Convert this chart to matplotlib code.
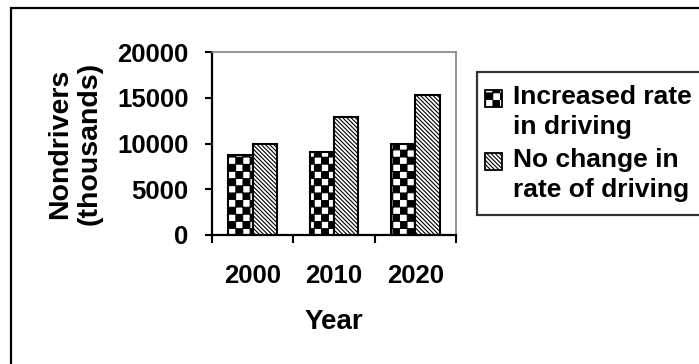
import warnings
import numpy as np
import matplotlib
matplotlib.use("Agg")
import matplotlib.pyplot as plt
from matplotlib import hatch as mhatch
from matplotlib.path import Path
from matplotlib.patches import Rectangle
from matplotlib.legend_handler import HandlerPatch

warnings.filterwarnings("ignore")

years = ["2000", "2010", "2020"]
increased = [8700, 9100, 10000]
no_change = [10000, 12900, 15300]
series_labels = ["Increased rate\nin driving", "No change in\nrate of driving"]
yticks = [0, 5000, 10000, 15000, 20000]


class Checker(mhatch.HatchPatternBase):
    filled = True

    def __init__(self, hatch, density):
        n = hatch.count('c') * 14
        self.n = n
        self.num_vertices = (n * n // 2) * 5 if n else 0

    def set_vertices_and_codes(self, vertices, codes):
        n = self.n
        s = 1.0 / n
        k = 0
        sq = np.array([[0, 0], [1, 0], [1, 1], [0, 1], [0, 0]], float)
        for i in range(n):
            for j in range(n):
                if (i + j) % 2 == 0:
                    vertices[k:k + 5] = (sq * 0.96 + 0.02 + [i, j]) * s
                    codes[k:k + 5] = [Path.MOVETO, Path.LINETO, Path.LINETO,
                                      Path.LINETO, Path.CLOSEPOLY]
                    k += 5


if Checker not in mhatch._hatch_types:
    mhatch._hatch_types.append(Checker)


class TopSquareHandler(HandlerPatch):
    def create_artists(self, legend, orig_handle, xdescent, ydescent,
                       width, height, fontsize, trans):
        size = 0.64 * fontsize
        y0 = 0.56 * fontsize
        p = Rectangle((-xdescent - 0.2 * fontsize, y0), size, size,
                      facecolor=orig_handle.get_facecolor(),
                      edgecolor='black', hatch=orig_handle.get_hatch(),
                      linewidth=1.3, transform=trans)
        return [p]


plt.rcParams['font.family'] = ['Liberation Sans', 'DejaVu Sans']
plt.rcParams['font.weight'] = 'bold'
plt.rcParams['hatch.linewidth'] = 0.8

fig = plt.figure(figsize=(6.99, 3.64), dpi=100)
ax = fig.add_axes([212 / 699, 1 - 235 / 364, 244 / 699, 183 / 364])

x = np.arange(len(years))
w = 0.3
b1 = ax.bar(x - w / 2, increased, w, color='white', edgecolor='black',
            linewidth=1.5, hatch='c', label=series_labels[0])
b2 = ax.bar(x + w / 2, no_change, w, color='white', edgecolor='black',
            linewidth=1.5, hatch='\\' * 8, label=series_labels[1])

ax.set_xlim(-0.5, len(years) - 0.5)
ax.set_ylim(0, 20000)
ax.set_yticks(yticks)
ax.set_yticklabels([str(t) for t in yticks], fontsize=18.5, fontweight='bold')
ax.set_xticks(np.arange(len(years) + 1) - 0.5)
ax.set_xticklabels([])
ax.set_xticks(x, minor=True)
ax.set_xticklabels(years, minor=True, fontsize=18.5, fontweight='bold')
ax.tick_params(axis='x', which='major', direction='out', length=6, width=1.5)
ax.tick_params(axis='x', which='minor', length=0, pad=21)
ax.tick_params(axis='y', direction='out', length=5, width=1.5, pad=12)

for s in ['left', 'bottom']:
    ax.spines[s].set_linewidth(1.6)
    ax.spines[s].set_color('black')
for s in ['top', 'right']:
    ax.spines[s].set_linewidth(1.2)
    ax.spines[s].set_color('#808080')

ax.set_xlabel("Year", fontsize=20, fontweight='bold', labelpad=15)
ax.set_ylabel("Nondrivers\n(thousands)", fontsize=20.5, fontweight='bold',
              labelpad=10, linespacing=1.2)

leg = ax.legend(handles=[b1.patches[0], b2.patches[0]], labels=series_labels,
                handler_map={Rectangle: TopSquareHandler()},
                loc='upper left', bbox_to_anchor=(477 / 699, 1 - 72 / 364),
                bbox_transform=fig.transFigure, fontsize=19, frameon=True,
                fancybox=False, edgecolor='black', borderpad=0.5,
                handlelength=0.5, handleheight=0.7, handletextpad=0.35,
                labelspacing=0.35, borderaxespad=0)
leg.get_frame().set_linewidth(1.6)
for t in leg.get_texts():
    t.set_linespacing(1.3)

border = Rectangle((11 / 699, -0.5), 2, 1 - 8 / 364 + 0.5,
                   transform=fig.transFigure, fill=False, edgecolor='black',
                   linewidth=1.6, clip_on=False)
fig.patches.append(border)

fig.savefig("out.png", dpi=100)
